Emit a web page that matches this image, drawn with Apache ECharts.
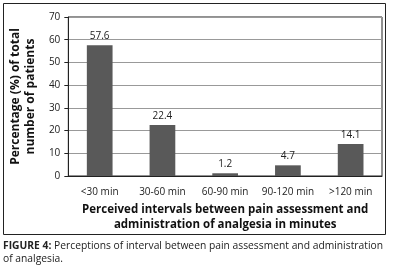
<!DOCTYPE html>
<html>
<head>
<meta charset="utf-8">
<script src="https://cdn.jsdelivr.net/npm/echarts@6/dist/echarts.min.js"></script>
<style>
  html, body { margin: 0; padding: 0; background: #fff; }
  #chart { width: 393px; height: 273px; }
</style>
</head>
<body>
<div id="chart"></div>
<script>
  // intervals between pain assessment and analgesia
  var categories = ['<30 min', '30-60 min', '60-90 min', '90-120 min', '>120 min'];
  var percentValues = [57.6, 22.4, 1.2, 4.7, 14.1];
  var yTicks = [0, 10, 20, 30, 40, 50, 60, 70];

  var fontFam = '"Open Sans", "Liberation Sans", sans-serif';
  var myChart = echarts.init(document.getElementById('chart'));

  var option = {
    animation: false,
    textStyle: { fontFamily: fontFam },
    grid: {
      left: 66,
      right: 11,
      top: 17,
      bottom: 97,
      show: true,
      borderColor: '#222',
      borderWidth: 1
    },
    xAxis: {
      type: 'category',
      data: categories,
      axisTick: { show: false },
      axisLine: { lineStyle: { color: '#222' } },
      axisLabel: { color: '#222', fontSize: 10, margin: 11, interval: 0 },
      name: 'Perceived intervals between pain assessment and\nadministration of analgesia in minutes',
      nameLocation: 'middle',
      nameGap: 31,
      nameTextStyle: { color: '#111', fontSize: 11.5, fontWeight: 'bold', lineHeight: 15, verticalAlign: 'middle' }
    },
    yAxis: {
      type: 'value',
      min: yTicks[0],
      max: yTicks[yTicks.length - 1],
      interval: 10,
      axisLine: { show: true, lineStyle: { color: '#222' } },
      axisTick: { show: true, length: 4, lineStyle: { color: '#222' } },
      axisLabel: { color: '#222', fontSize: 10, margin: 8 },
      splitLine: { lineStyle: { color: '#999' } },
      name: 'Percentage (%) of total\nnumber of patients',
      nameLocation: 'middle',
      nameRotate: 90,
      nameGap: 29,
      nameTextStyle: { color: '#111', fontSize: 12, fontWeight: 'bold', lineHeight: 15 }
    },
    series: [
      {
        type: 'bar',
        data: percentValues,
        barWidth: '41%',
        itemStyle: { color: '#595959' },
        label: {
          show: true,
          position: 'top',
          distance: 4,
          color: '#222',
          fontSize: 10,
          formatter: function (p) { return p.value.toFixed(1); }
        }
      }
    ],
    graphic: [
      {
        type: 'rect',
        shape: { x: 3.5, y: 3.5, width: 382, height: 231 },
        style: { fill: 'none', stroke: '#222', lineWidth: 1 },
        silent: true
      },
      {
        type: 'text',
        left: 3,
        top: 240,
        style: {
          text: '{b|FIGURE 4:} Perceptions of interval between pain assessment and administration\nof analgesia.',
          fontFamily: fontFam,
          fontSize: 10.3,
          lineHeight: 13,
          fill: '#222',
          rich: {
            b: { fontWeight: 'bold', fontSize: 10.3, fill: '#222', fontFamily: fontFam }
          }
        }
      }
    ]
  };
  myChart.setOption(option);
</script>
</body>
</html>
